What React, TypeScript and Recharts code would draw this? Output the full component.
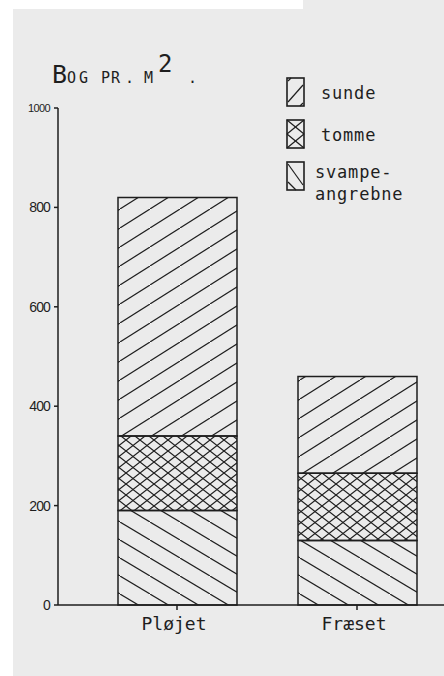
import React from "react"
import { BarChart, Bar, XAxis, YAxis, Legend } from "recharts"

// data (beech plants per m2)
const categories = ["Pløjet", "Fræset"]
const svampeangrebne = [190, 130]
const tomme = [150, 135]
const sunde = [480, 195]
const yTicks = [0, 200, 400, 600, 800, 1000]

const data = categories.map((name, i) => ({
  name,
  svampeangrebne: svampeangrebne[i],
  tomme: tomme[i],
  sunde: sunde[i],
}))

const INK = "#1e1e1e"
const BG = "#ebebeb"
const MONO = "'DejaVu Sans Mono', 'Liberation Mono', monospace"

const YTick = (props: any) => {
  const { x, y, payload } = props
  const big = payload.value === 1000
  return (
    <text
      x={x}
      y={y}
      dy="0.36em"
      textAnchor="end"
      fill={INK}
      fontFamily="'Liberation Sans', Arial, sans-serif"
      fontSize={big ? 11 : 14}
      fontWeight={500}
      letterSpacing={big ? -0.6 : -0.9}
    >
      {payload.value}
    </text>
  )
}

const XTick = (props: any) => {
  const { x, y, payload } = props
  return (
    <text x={x} y={y} dy="0.71em" dx={-3} textAnchor="middle" fill={INK} fontFamily={MONO} fontSize={18}>
      {payload.value}
    </text>
  )
}

// little hand drawn looking swatches, like the original key
function Swatch({ kind }: { kind: string }) {
  return (
    <svg width={20} height={31} style={{ display: "block" }}>
      <rect x={1} y={1} width={17} height={28} fill="none" stroke={INK} strokeWidth={1.6} />
      {kind === "sunde" && (
        <g stroke={INK} strokeWidth={1.2}>
          <line x1={2} y1={25} x2={17} y2={8} />
          <line x1={2} y1={4} x2={5} y2={1} />
          <line x1={14} y1={29} x2={17} y2={26} />
        </g>
      )}
      {kind === "tomme" && (
        <g stroke={INK} strokeWidth={1.2}>
          <line x1={1} y1={1} x2={18} y2={15} />
          <line x1={18} y1={1} x2={1} y2={15} />
          <line x1={1} y1={15} x2={18} y2={29} />
          <line x1={18} y1={15} x2={1} y2={29} />
        </g>
      )}
      {kind === "svampeangrebne" && (
        <g stroke={INK} strokeWidth={1.2}>
          <line x1={2} y1={3} x2={17} y2={24} />
          <line x1={2} y1={21} x2={10} y2={29} />
        </g>
      )}
    </svg>
  )
}

const legendItems = [
  { key: "sunde", lines: ["sunde"] },
  { key: "tomme", lines: ["tomme"] },
  { key: "svampeangrebne", lines: ["svampe-", "angrebne"] },
]

function KeyContent() {
  return (
    <div style={{ fontFamily: MONO, fontSize: 17, letterSpacing: 0.8, color: INK }}>
      {legendItems.map((it) => (
        <div key={it.key} style={{ display: "flex", alignItems: "flex-start", height: 42 }}>
          <Swatch kind={it.key} />
          <div style={{ marginLeft: it.key === "svampeangrebne" ? 9 : 15, lineHeight: "22px" }}>
            {it.lines.map((l, j) => (
              <div key={j} style={{ marginTop: j === 0 && it.lines.length === 1 ? 5 : 0 }}>
                {l}
              </div>
            ))}
          </div>
        </div>
      ))}
    </div>
  )
}

export default function App() {
  return (
    <div style={{ position: "absolute", left: 0, top: 0, width: 444, height: 676, background: BG, overflow: "hidden" }}>
      {/* scanner edges */}
      <div style={{ position: "absolute", left: 0, top: 0, width: 13, height: 676, background: "#fff" }} />
      <div style={{ position: "absolute", left: 0, top: 0, width: 303, height: 9, background: "#fff" }} />

      {/* title: BOG PR. M2. */}
      <svg width={444} height={110} style={{ position: "absolute", left: 0, top: 0 }}>
        <text fill={INK} fontFamily={MONO} y={83}>
          <tspan x={52} fontSize={25}>B</tspan>
          <tspan x={67} fontSize={15}>O</tspan>
          <tspan x={79} fontSize={15}>G</tspan>
          <tspan x={101} fontSize={15}>P</tspan>
          <tspan x={111} fontSize={15}>R</tspan>
          <tspan x={125} fontSize={15}>.</tspan>
          <tspan x={144} fontSize={15}>M</tspan>
          <tspan x={158} y={72} fontSize={24}>2</tspan>
          <tspan x={188} y={83} fontSize={15}>.</tspan>
        </text>
      </svg>

      <div style={{ position: "absolute", left: 0, top: 0 }}>
        <BarChart width={444} height={676} data={data} margin={{ top: 108, right: -3, bottom: 31, left: 0 }}>
          <defs>
            <pattern id="pSunde" patternUnits="userSpaceOnUse" width={30} height={19}>
              <path d="M-3,20.9 L33,-1.9" stroke={INK} strokeWidth={1.2} />
            </pattern>
            <pattern id="pTomme" patternUnits="userSpaceOnUse" width={14} height={11}>
              <path d="M-2,-1.57 L16,12.57 M-2,12.57 L16,-1.57" stroke={INK} strokeWidth={1.2} />
            </pattern>
            <pattern id="pSvamp" patternUnits="userSpaceOnUse" width={30} height={18}>
              <path d="M-3,-1.8 L33,19.8" stroke={INK} strokeWidth={1.2} />
            </pattern>
          </defs>
          <XAxis
            dataKey="name"
            height={40}
            padding={{ left: 29, right: 0 }}
            axisLine={{ stroke: INK, strokeWidth: 1.5 }}
            tickLine={{ stroke: INK, strokeWidth: 1.5 }}
            tickSize={5}
            tickMargin={7}
            tick={<XTick />}
          />
          <YAxis
            width={58}
            domain={[0, 1000]}
            ticks={yTicks}
            interval={0}
            axisLine={{ stroke: INK, strokeWidth: 1.5 }}
            tickLine={{ stroke: INK, strokeWidth: 1.5 }}
            tickSize={4}
            tickMargin={4}
            tick={<YTick />}
          />
          <Legend
            layout="horizontal"
            verticalAlign="middle"
            align="center"
            wrapperStyle={{ left: 286, top: 77, width: 150 }}
            content={<KeyContent />}
          />
          <Bar dataKey="svampeangrebne" stackId="a" barSize={119} fill="url(#pSvamp)" stroke={INK} strokeWidth={1.5} isAnimationActive={false} />
          <Bar dataKey="tomme" stackId="a" barSize={119} fill="url(#pTomme)" stroke={INK} strokeWidth={1.5} isAnimationActive={false} />
          <Bar dataKey="sunde" stackId="a" barSize={119} fill="url(#pSunde)" stroke={INK} strokeWidth={1.5} isAnimationActive={false} />
        </BarChart>
      </div>
    </div>
  )
}
